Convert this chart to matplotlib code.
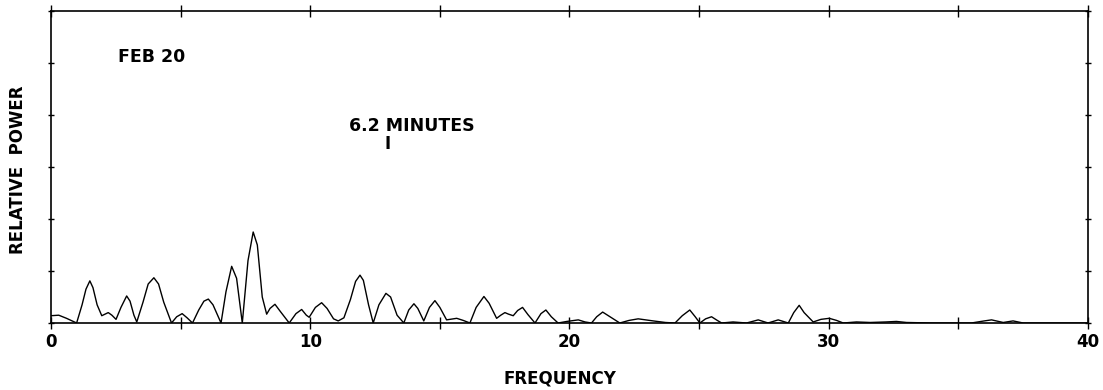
import matplotlib
matplotlib.use("Agg")
import matplotlib.pyplot as plt

# power spectrum (frequency, relative power)
freq = [0.0, 0.3, 0.6, 0.99, 1.2, 1.35, 1.50, 1.62, 1.78, 1.96, 2.21, 2.35, 2.51,
        2.7, 2.92, 3.05, 3.2, 3.31, 3.55, 3.75, 3.97, 4.15, 4.35, 4.65, 4.85, 5.06,
        5.25, 5.46, 5.7, 5.9, 6.07, 6.25, 6.56, 6.75, 6.97, 7.16, 7.38, 7.6, 7.80,
        7.96, 8.15, 8.32, 8.45, 8.64, 8.85, 9.19, 9.45, 9.67, 9.85, 9.96, 10.2,
        10.44, 10.65, 10.9, 11.08, 11.3, 11.55, 11.75, 11.92, 12.05, 12.25, 12.43,
        12.65, 12.92, 13.1, 13.35, 13.61, 13.8, 14.0, 14.15, 14.38, 14.6, 14.81,
        15.0, 15.26, 15.65, 15.9, 16.16, 16.4, 16.70, 16.9, 17.19, 17.35, 17.51,
        17.65, 17.83, 18.0, 18.19, 18.4, 18.67, 18.9, 19.09, 19.3, 19.56, 19.9,
        20.34, 20.6, 20.85, 21.05, 21.28, 21.5, 21.94, 22.3, 22.65, 23.23, 23.7,
        24.07, 24.35, 24.64, 24.85, 25.03, 25.25, 25.48, 25.7, 25.87, 26.31, 26.83,
        27.28, 27.66, 28.05, 28.44, 28.65, 28.86, 29.05, 29.40, 29.7, 30.02, 30.3,
        30.56, 31.07, 31.6, 32.2, 32.61, 33.0, 34.0, 35.5, 36.0, 36.28, 36.73,
        37.11, 37.5, 38.5, 40.0]
power = [0.14, 0.15, 0.09, 0.0, 0.35, 0.65, 0.81, 0.68, 0.35, 0.14, 0.20, 0.15, 0.07,
         0.30, 0.52, 0.42, 0.15, 0.02, 0.40, 0.75, 0.87, 0.75, 0.40, 0.0, 0.12, 0.18,
         0.10, 0.0, 0.25, 0.42, 0.46, 0.35, 0.0, 0.6, 1.09, 0.86, 0.0, 1.2, 1.75,
         1.50, 0.5, 0.17, 0.28, 0.36, 0.22, 0.0, 0.18, 0.26, 0.15, 0.11, 0.30,
         0.39, 0.28, 0.08, 0.04, 0.10, 0.45, 0.80, 0.92, 0.82, 0.35, 0.0,
         0.35, 0.57, 0.50, 0.15, 0.0, 0.25, 0.37, 0.28, 0.04, 0.30, 0.43,
         0.30, 0.06, 0.09, 0.05, 0.0, 0.30, 0.51, 0.38, 0.09, 0.15, 0.20,
         0.17, 0.14, 0.24, 0.30, 0.16, 0.0, 0.18, 0.25, 0.12, 0.0, 0.03,
         0.06, 0.02, 0.0, 0.12, 0.21, 0.14, 0.0, 0.05, 0.08, 0.04, 0.01,
         0.0, 0.14, 0.25, 0.12, 0.0, 0.08, 0.12, 0.05, 0.0, 0.02, 0.0,
         0.06, 0.0, 0.06, 0.0, 0.2, 0.34, 0.2, 0.02, 0.07, 0.09, 0.05,
         0.0, 0.02, 0.01, 0.02, 0.03, 0.01, 0.0, 0.0, 0.04, 0.06, 0.01,
         0.04, 0.0, 0.0, 0.0]

x_major = [0, 10, 20, 30, 40]
x_minor = [5, 15, 25, 35]
y_ticks = [0, 1, 2, 3, 4, 5, 6]

fig = plt.figure(figsize=(11.03, 3.9), dpi=100)
ax = fig.add_axes([0.0462, 0.1718, 0.9402, 0.8000])

ax.plot(freq, power, color="black", lw=1.0)
ax.set_xlim(0, 40)
ax.set_ylim(0, 6)

for s in ax.spines.values():
    s.set_linewidth(1.2)

ax.set_xticks(x_major)
ax.set_xticks(x_minor, minor=True)
ax.set_yticks(y_ticks)
ax.set_yticklabels([])
ax.tick_params(axis="both", which="both", direction="inout", top=True, right=True,
               width=1.0, color="black")
ax.tick_params(axis="x", which="major", length=8, pad=3, labelsize=12)
ax.tick_params(axis="x", which="minor", length=8)
ax.tick_params(axis="y", which="major", length=5)
for lab in ax.get_xticklabels():
    lab.set_fontweight("bold")

# axis titles placed in figure pixels so they sit where the reference has them
fig.text(560 / 1103, 1 - 378 / 390, "FREQUENCY", fontsize=12, fontweight="bold",
         ha="center", va="center")
fig.text(18 / 1103, 1 - 170 / 390, "RELATIVE  POWER", fontsize=12, fontweight="bold",
         ha="center", va="center", rotation=90)

ax.text(2.6, 5.12, "FEB 20", fontsize=12.5, fontweight="bold", va="center", ha="left")
ax.text(11.5, 3.78, "6.2 MINUTES", fontsize=12.5, fontweight="bold", va="center", ha="left")
ax.text(13.0, 3.45, "I", fontsize=12, fontweight="bold", va="center", ha="center")

fig.savefig("out.png", dpi=100)
